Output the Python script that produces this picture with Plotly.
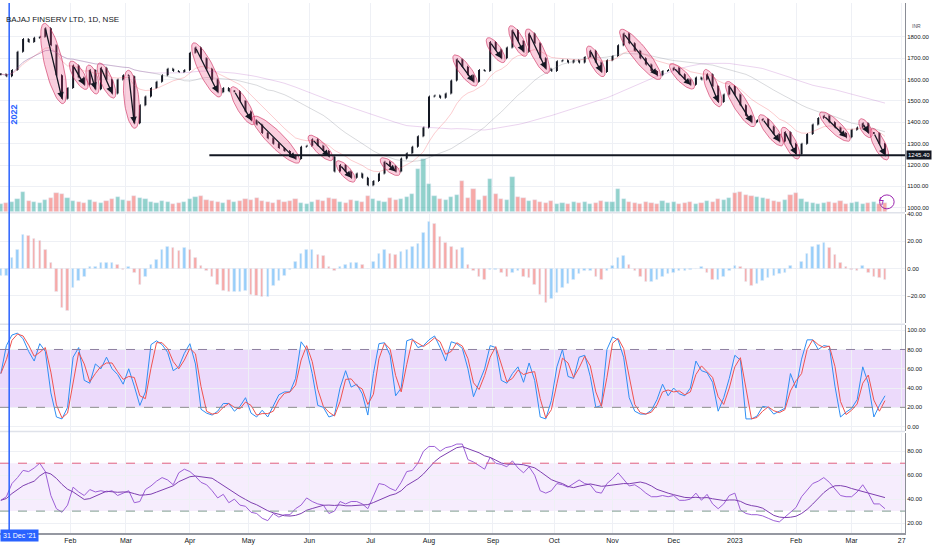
import numpy as np
import pandas as pd
import plotly.graph_objects as go


START_DATE = "2021-12-28"
BAR_STEP = 2  # business days covered by one bar

CLOSES = [
    1625, 1615, 1645, 1730, 1790, 1775, 1795, 1800, 1840, 1760,
    1620, 1510, 1560, 1665, 1610, 1575, 1645, 1555, 1655, 1600,
    1535, 1600, 1620, 1615, 1395, 1480, 1520, 1560, 1590, 1620,
    1650, 1640, 1635, 1645, 1725, 1750, 1700, 1650, 1600, 1540,
    1560, 1545, 1545, 1500, 1450, 1410, 1390, 1350, 1325, 1300,
    1280, 1265, 1245, 1228, 1285, 1290, 1320, 1290, 1265, 1240,
    1170, 1200, 1170, 1140, 1160, 1140, 1105, 1125, 1160, 1215,
    1195, 1170, 1230, 1255, 1285, 1335, 1375, 1520, 1525, 1515,
    1535, 1595, 1695, 1660, 1620, 1590, 1645, 1640, 1775, 1740,
    1700, 1750, 1830, 1780, 1730, 1815, 1770, 1700, 1650, 1640,
    1685, 1690, 1680, 1690, 1680, 1705, 1735, 1680, 1635, 1690,
    1710, 1760, 1815, 1770, 1735, 1700, 1670, 1640, 1620, 1640,
    1645, 1655, 1625, 1600, 1575, 1610, 1600, 1625, 1570, 1495,
    1530, 1570, 1530, 1480, 1430, 1400, 1410, 1415, 1380, 1345,
    1310, 1355, 1300, 1250, 1300, 1345, 1390, 1420, 1430, 1400,
    1375, 1350, 1330, 1365, 1375, 1395, 1350, 1350, 1300, 1245.4,
]

VOLUMES = [
    0.8, 0.9, 1.0, 1.3, 2.0, 1.1, 1.0, 0.9, 1.2, 1.4,
    1.9, 1.8, 1.4, 1.1, 1.0, 0.9, 1.2, 1.0, 0.9, 1.1,
    1.3, 1.5, 1.2, 1.1, 1.6, 1.4, 1.3, 1.0, 0.9, 1.1,
    1.0, 0.8, 0.9, 1.0, 1.3, 1.5, 1.6, 1.2, 1.1, 1.0,
    0.9, 1.2, 1.0, 1.1, 1.3, 1.2, 1.4, 1.1, 1.0, 0.9,
    1.2, 1.0, 1.1, 1.3, 0.9, 0.8, 1.0, 1.2, 1.1, 1.4,
    1.3, 1.0, 0.9, 1.2, 1.1, 1.0, 1.6, 1.3, 1.1, 1.0,
    1.4, 1.2, 1.3, 1.5, 1.8, 4.3, 5.3, 2.8, 1.6, 1.3,
    1.2, 1.5, 1.7, 3.1, 1.4, 2.3, 1.2, 1.6, 3.3, 1.8,
    1.3, 1.2, 3.5, 1.5, 1.4, 1.1, 1.2, 1.0, 0.9, 1.1,
    0.8, 0.9, 0.8, 1.0, 0.9, 1.0, 0.8, 0.9, 1.1, 1.0,
    1.0, 2.3, 1.3, 1.0, 0.9, 0.8, 1.0, 0.9, 0.8, 1.1,
    0.9, 1.0, 0.8, 0.9, 1.0, 0.8, 0.9, 1.1, 1.0, 1.3,
    1.2, 1.4, 1.9, 2.0, 1.7, 1.6, 1.5, 1.4, 1.3, 1.1,
    1.0, 1.2, 1.7, 1.9, 1.3, 1.0, 0.9, 0.8, 0.9, 1.0,
    0.9, 1.1, 0.8, 0.9, 1.0, 0.8, 0.9, 1.0, 0.8, 0.9,
]

MACD_HIST = [
    -5, -5, 8, 14, 25, 24, 22, 20, 14, 4,
    -17, -29, -31, -14, -9, -6, 1, 1, 4, 4,
    4, 3, -1, 1, -3, -12, -6, 3, 6, 14,
    16, 15, 13, 15, 14, 8, 2, -2, -6, -12,
    -16, -17, -17, -17, -16, -19, -20, -21, -21, -13,
    -9, -5, -1, 5, 11, 14, 14, 10, 9, 1,
    -2, 1, 3, 4, 4, 3, 0, 5, 11, 14,
    11, 10, 12, 14, 16, 18, 26, 34, 33, 23,
    19, 16, 14, 15, 3, -2, -6, -8, -1, -1,
    -3, -6, -3, -2, -6, -7, -12, -19, -25, -22,
    -18, -14, -11, -8, -4, -2, -2, -6, -8, -2,
    2, 8, 9, 3, -2, -6, -10, -10, -8, -6,
    -4, -3, -2, -2, -1, 0, 1, -3, -8, -8,
    -6, -2, 2, 1, -10, -13, -11, -9, -7, -5,
    -4, -3, 2, 0, 5, 11, 16, 17, 19, 15,
    10, 4, 1, -1, -2, 2, -3, -6, -7, -8,
]

STOCH_K = [
    55, 84, 95, 97, 91, 78, 68, 86, 78, 35,
    10, 8, 20, 72, 82, 48, 45, 65, 60, 72,
    60, 54, 44, 60, 42, 22, 36, 85, 89, 85,
    77, 58, 62, 76, 86, 65, 18, 14, 12, 16,
    24, 24, 16, 21, 30, 14, 10, 17, 10, 22,
    33, 36, 36, 50, 88, 80, 55, 22, 20, 10,
    12, 40, 58, 41, 44, 34, 12, 55, 86, 87,
    74, 32, 40, 89, 91, 82, 84, 90, 94, 82,
    68, 88, 86, 81, 60, 31, 46, 60, 84, 82,
    48, 45, 55, 62, 46, 66, 48, 10, 8, 27,
    62, 80, 52, 50, 72, 74, 52, 20, 22, 80,
    93, 90, 72, 30, 16, 13, 13, 17, 28, 44,
    32, 40, 34, 32, 40, 68, 58, 56, 46, 16,
    30, 50, 74, 69, 8, 8, 11, 21, 20, 13,
    16, 19, 55, 40, 70, 90, 90, 80, 84, 83,
    42, 10, 15, 19, 28, 62, 45, 10, 22, 32,
]

RSI = [
    39, 42, 53, 58, 64, 63, 66, 70, 63, 43,
    32, 29, 35, 50, 46, 43, 48, 46, 47, 46,
    47, 43, 45, 47, 37, 38, 48, 51, 55, 58,
    56, 52, 62, 65, 63, 59, 54, 52, 47, 41,
    44, 37, 40, 35, 34, 29, 28, 24, 22, 28,
    25, 27, 27, 32, 35, 41, 38, 36, 35, 28,
    30, 38, 36, 38, 38, 36, 32, 42, 53, 52,
    49, 47, 54, 63, 64, 70, 80, 84, 84, 80,
    83, 84, 86, 86, 73, 71, 68, 65, 75, 70,
    69, 67, 72, 66, 62, 67, 60, 47, 45, 47,
    53, 52, 50, 53, 56, 53, 52, 46, 45, 53,
    57, 62, 56, 51, 52, 49, 45, 42, 42, 43,
    42, 43, 39, 39, 40, 45, 39, 44, 36, 32,
    36, 43, 45, 31, 28, 27, 27, 26, 24, 22,
    21, 25, 29, 33, 42, 48, 53, 55, 58, 54,
    48, 43, 42, 42, 46, 52, 45, 36, 36, 32,
]

# Hand-drawn ellipses + arrows on the price panel (first bar, last bar).
ELLIPSE_SEGMENTS = [
    (8, 11), (13, 15), (16, 17), (18, 20), (23, 24), (35, 39),
    (42, 45), (46, 53), (56, 59), (61, 63), (69, 71), (82, 85),
    (88, 90), (92, 94), (95, 98), (106, 108), (112, 118), (121, 124),
    (127, 129), (131, 135), (137, 140), (141, 143), (148, 152),
    (155, 156), (157, 159),
]

TICK_DATES = [
    "2022-02-01", "2022-03-01", "2022-04-01", "2022-05-02", "2022-06-01",
    "2022-07-01", "2022-08-01", "2022-09-01", "2022-10-03", "2022-11-01",
    "2022-12-01", "2023-01-02", "2023-02-01", "2023-03-01", "2023-03-27",
]
TICK_LABELS = [
    "Feb", "Mar", "Apr", "May", "Jun", "Jul", "Aug", "Sep", "Oct", "Nov",
    "Dec", "2023", "Feb", "Mar", "27",
]

SUPPORT_LEVEL = 1245.40
SUPPORT_START_DATE = "2022-04-12"
CROSSHAIR_DATE = "2021-12-31"

PRICE_TICKS = [1000, 1100, 1200, 1300, 1400, 1500, 1600, 1700, 1800]
MACD_TICKS = [-20, 0, 20, 40]
STOCH_TICKS = [0, 20, 40, 60, 80, 100]
RSI_TICKS = [20, 40, 60, 80]

WIDTH, HEIGHT = 932, 550
MARGIN = dict(l=0, r=27, t=0, b=17)
X_RANGE = [-0.3, 325.2]
PRICE_RANGE = [981, 1958]
GRID = "#eef0f5"
AXIS_LINE = "#8a8d96"
TEXT = "#131722"
FONT = "Liberation Sans"


def business_offset(dates):
    """Business days from the first bar to each date."""
    return np.busday_count(START_DATE, np.array(dates, dtype="datetime64[D]"))


def ellipse_points(x0, y0, x1, y1, sx, sy, n=60):
    """Tilted ellipse around the segment, built in pixel space."""
    p0 = np.array([x0 * sx, y0 * sy])
    p1 = np.array([x1 * sx, y1 * sy])
    d = p1 - p0
    length = np.hypot(*d)
    u = d / length
    v = np.array([-u[1], u[0]])
    a = length / 2 + 5
    b = 4 + 0.07 * length
    t = np.linspace(0, 2 * np.pi, n)
    pts = (p0 + p1) / 2 + np.outer(a * np.cos(t), u) + np.outer(b * np.sin(t), v)
    return pts[:, 0] / sx, pts[:, 1] / sy


x = np.arange(len(CLOSES)) * BAR_STEP
close = pd.Series(CLOSES, dtype=float)
open_ = close.shift(1).fillna(close.iloc[0])
high = np.maximum(open_, close)
low = np.minimum(open_, close)

fig = go.Figure()

# volume under the price bars
vol_colors = [
    "rgba(38,166,154,0.5)" if c >= o else "rgba(239,83,80,0.5)"
    for o, c in zip(open_, close)
]
fig.add_trace(go.Bar(x=x, y=VOLUMES, marker_color=vol_colors, width=1.5,
                     yaxis="y", hoverinfo="skip"))

ma_specs = [
    (close.ewm(span=10, adjust=False).mean(), "rgba(242,54,69,0.25)"),
    (close.rolling(25, min_periods=1).mean(), "rgba(120,123,134,0.28)"),
    (close.rolling(50, min_periods=1).mean(), "rgba(156,39,176,0.2)"),
]
for series, color in ma_specs:
    fig.add_trace(go.Scatter(x=x, y=series, mode="lines", yaxis="y2",
                             line=dict(color=color, width=1), hoverinfo="skip"))

plot_w = WIDTH - MARGIN["l"] - MARGIN["r"]
plot_h = HEIGHT - MARGIN["t"] - MARGIN["b"]
price_px = 210
sx = plot_w / (X_RANGE[1] - X_RANGE[0])
sy = price_px / (PRICE_RANGE[1] - PRICE_RANGE[0])

annotations = []
for s, e in ELLIPSE_SEGMENTS:
    xs, ys = ellipse_points(x[s], high[s], x[e], close[e], sx, sy)
    fig.add_trace(go.Scatter(
        x=xs, y=ys, mode="lines", fill="toself", yaxis="y2",
        fillcolor="rgba(236,64,122,0.25)",
        line=dict(color="rgba(205,40,90,0.6)", width=1),
        hoverinfo="skip",
    ))
    annotations.append(dict(
        x=x[e], y=close[e], ax=x[s], ay=high[s],
        xref="x", yref="y2", axref="x", ayref="y2",
        text="", showarrow=True, arrowhead=2, arrowsize=1,
        arrowwidth=1.3, arrowcolor=TEXT,
    ))

fig.add_trace(go.Ohlc(
    x=x, open=open_, high=high, low=low, close=close, yaxis="y2",
    increasing=dict(line=dict(color=TEXT, width=2)),
    decreasing=dict(line=dict(color=TEXT, width=2)),
    tickwidth=0.15, hoverinfo="skip",
))

# MACD histogram
macd = pd.Series(MACD_HIST, dtype=float)
macd_colors = [
    "rgba(66,165,245,0.55)" if d >= 0 else "rgba(239,83,80,0.5)"
    for d in macd.diff().fillna(0)
]
fig.add_trace(go.Bar(x=x, y=macd, marker_color=macd_colors, width=0.9,
                     yaxis="y3", hoverinfo="skip"))

# stochastic
stoch_k = pd.Series(STOCH_K, dtype=float)
stoch_d = stoch_k.rolling(2, min_periods=1).mean()
fig.add_trace(go.Scatter(x=x, y=stoch_k, mode="lines", yaxis="y4",
                         line=dict(color="#2f8ef4", width=1), hoverinfo="skip"))
fig.add_trace(go.Scatter(x=x, y=stoch_d, mode="lines", yaxis="y4",
                         line=dict(color="#ef5350", width=1), hoverinfo="skip"))

# RSI and its average
rsi = pd.Series(RSI, dtype=float)
rsi_ma = rsi.rolling(7, min_periods=1).mean()
fig.add_trace(go.Scatter(x=x, y=rsi, mode="lines", yaxis="y5",
                         line=dict(color="#9c5fd6", width=1), hoverinfo="skip"))
fig.add_trace(go.Scatter(x=x, y=rsi_ma, mode="lines", yaxis="y5",
                         line=dict(color="#7e3fb0", width=1), hoverinfo="skip"))


def frac(px):
    """Pixel row (from top of plot area) to paper fraction."""
    return 1 - px / plot_h


def y_axis(domain, rng, ticks, **extra):
    axis = dict(
        domain=domain, range=rng, tickvals=ticks, tickformat=".2f",
        side="right", showgrid=True, gridcolor=GRID, zeroline=False,
        showline=True, linecolor=AXIS_LINE, ticks="",
        tickfont=dict(size=6, color=TEXT, family=FONT), fixedrange=True,
    )
    axis.update(extra)
    return axis


shapes = []
for y0, y1, yref, color in [(20, 80, "y4", "rgba(179,107,240,0.25)"),
                            (30, 70, "y5", "rgba(179,107,240,0.12)")]:
    shapes.append(dict(type="rect", xref="paper", yref=yref, x0=0, x1=1,
                       y0=y0, y1=y1, fillcolor=color, line_width=0,
                       layer="below"))
for level, yref, color in [(80, "y4", "#8d7fa0"), (20, "y4", "#8d8d8d"),
                           (70, "y5", "#e0607e"), (30, "y5", "#7d9a8d")]:
    shapes.append(dict(type="line", xref="paper", yref=yref, x0=0, x1=1,
                       y0=level, y1=level,
                       line=dict(color=color, width=1, dash="dash")))
for px in (211, 323, 431):
    shapes.append(dict(type="line", xref="paper", yref="paper", x0=0, x1=1,
                       y0=frac(px), y1=frac(px),
                       line=dict(color="#dfe2ea", width=1.5)))

support_x0 = business_offset([SUPPORT_START_DATE])[0]
shapes.append(dict(type="line", xref="x", yref="y2", x0=support_x0,
                   x1=X_RANGE[1], y0=SUPPORT_LEVEL, y1=SUPPORT_LEVEL,
                   line=dict(color=TEXT, width=2)))

cross_x = business_offset([CROSSHAIR_DATE])[0]
shapes.append(dict(type="line", xref="x", yref="paper", x0=cross_x,
                   x1=cross_x, y0=0, y1=1,
                   line=dict(color="#2962ff", width=1.5)))

# lightning icon at the end of the volume row
shapes.append(dict(type="circle", xref="paper", yref="paper",
                   x0=0.972, x1=0.988, y0=frac(207), y1=frac(193),
                   line=dict(color="#9c27b0", width=1)))

annotations += [
    dict(x=0.004, y=frac(10), xref="paper", yref="paper", xanchor="left",
         text="BAJAJ FINSERV LTD, 1D, NSE", showarrow=False,
         font=dict(size=8, color=TEXT, family=FONT)),
    dict(x=1, y=frac(18), xref="paper", yref="paper", xanchor="left",
         xshift=5, text="INR", showarrow=False,
         font=dict(size=5, color="#50535e", family=FONT)),
    dict(x=cross_x, y=frac(100), xref="x", yref="paper", xshift=5,
         text="<b>2022</b>", textangle=-90, showarrow=False,
         font=dict(size=9, color="#2962ff", family=FONT)),
    dict(x=0, y=-9 / plot_h, xref="paper", yref="paper", xanchor="left",
         text="31 Dec '21", showarrow=False, bgcolor="#2962ff",
         font=dict(size=7, color="white", family=FONT), borderpad=2),
    dict(x=1, y=SUPPORT_LEVEL, xref="paper", yref="y2", xanchor="left",
         xshift=1, text="1245.40", showarrow=False, bgcolor=TEXT,
         borderpad=1, font=dict(size=6, color="white", family=FONT)),
    dict(x=0.98, y=frac(200), xref="paper", yref="paper", text="ϟ",
         showarrow=False,
         font=dict(size=10, color="#9c27b0", family="DejaVu Sans")),
]

fig.update_layout(
    width=WIDTH, height=HEIGHT, margin=MARGIN,
    paper_bgcolor="white", plot_bgcolor="white",
    showlegend=False, bargap=0, barmode="overlay",
    xaxis=dict(
        domain=[0, 1], range=X_RANGE, anchor="y5",
        tickvals=business_offset(TICK_DATES), ticktext=TICK_LABELS,
        showgrid=True, gridcolor=GRID, zeroline=False,
        showline=True, linecolor="#9598a1", linewidth=2, ticks="",
        tickfont=dict(size=7, color=TEXT, family=FONT),
        rangeslider=dict(visible=False), fixedrange=True,
    ),
    yaxis=dict(domain=[frac(210), 1], range=[0, 21], visible=False,
               fixedrange=True),
    yaxis2=y_axis([frac(210), 1], PRICE_RANGE, PRICE_TICKS, overlaying="y"),
    yaxis3=y_axis([frac(322), frac(212)], [-40, 40], MACD_TICKS),
    yaxis4=y_axis([frac(430), frac(324)], [-4.1, 105.2], STOCH_TICKS),
    yaxis5=y_axis([0, frac(432)], [11.7, 95.6], RSI_TICKS),
    shapes=shapes,
    annotations=annotations,
)

# the page body has a default 8px margin; drop it so the chart fills the window
fig.write_html(
    "out.html",
    config={"displayModeBar": False},
    post_script="document.body.style.margin='0';",
)
